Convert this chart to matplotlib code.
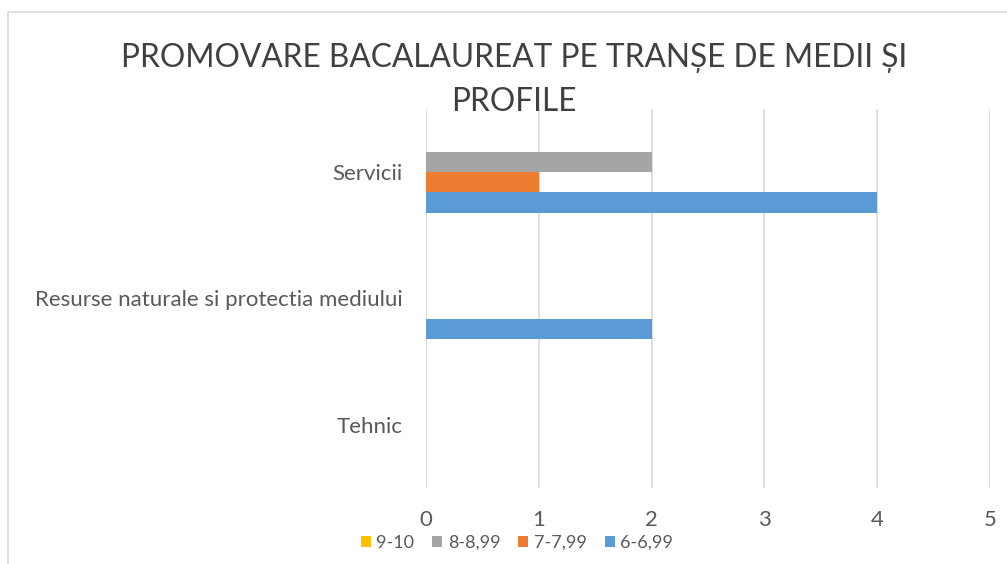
import matplotlib
matplotlib.use("Agg")
import matplotlib.pyplot as plt
from matplotlib.patches import Rectangle, Patch
import numpy as np

plt.rcParams['font.family'] = ['Lato', 'DejaVu Sans']

categories = ["Tehnic", "Resurse naturale si protectia mediului", "Servicii"]
series_names = ["6-6,99", "7-7,99", "8-8,99", "9-10"]
s_6 = [0, 2, 4]
s_7 = [0, 0, 1]
s_8 = [0, 0, 2]
s_9 = [0, 0, 0]
colors = ["#5B9BD5", "#ED7D31", "#A5A5A5", "#FFC000"]
xticks = [0, 1, 2, 3, 4, 5]
title = "PROMOVARE BACALAUREAT PE TRANȘE DE MEDII ȘI\nPROFILE"

W, H = 1007, 564
fig = plt.figure(figsize=(W / 100, H / 100), dpi=100)
fig.patch.set_facecolor("white")

# chart border
fig.add_artist(Rectangle((8 / W, -0.1), 1.2, 1 - 12 / H + 0.1, transform=fig.transFigure,
                         fill=False, edgecolor="#D9D9D9", linewidth=1.2))

ax = fig.add_axes([426 / W, 1 - 488 / H, (990 - 426) / W, (488 - 109) / H])
y = np.arange(len(categories))
h = 0.16
data = [s_6, s_7, s_8, s_9]
for i, (vals, c, name) in enumerate(zip(data, colors, series_names)):
    ax.barh(y + (i - 1.5) * h, vals, height=h, color=c, label=name, zorder=3)

ax.set_xlim(0, 5)
ax.set_ylim(-0.5, 2.5)
ax.set_xticks(xticks)
ax.set_yticks(y)
ax.set_yticklabels(categories)
ax.grid(axis="x", color="#D9D9D9", linewidth=1.2, zorder=0)
for s in ax.spines.values():
    s.set_visible(False)
ax.tick_params(axis="both", length=0, colors="#595959", labelsize=16)
ax.tick_params(axis="x", pad=16)
ax.tick_params(axis="y", pad=17)

fig.text(514 / W, 1 - 80 / H, title, ha="center", va="center", fontsize=22.8,
         color="#404040", linespacing=1.62)

handles = [Patch(facecolor=colors[i], label=series_names[i]) for i in [3, 2, 1, 0]]
fig.legend(handles=handles, loc="center", bbox_to_anchor=(517 / W, 1 - 543 / H), ncol=4,
           frameon=False, fontsize=13, handlelength=0.55, handleheight=0.55,
           handletextpad=0.3, columnspacing=1.0, labelcolor="#595959")

fig.savefig("out.png", dpi=100)
